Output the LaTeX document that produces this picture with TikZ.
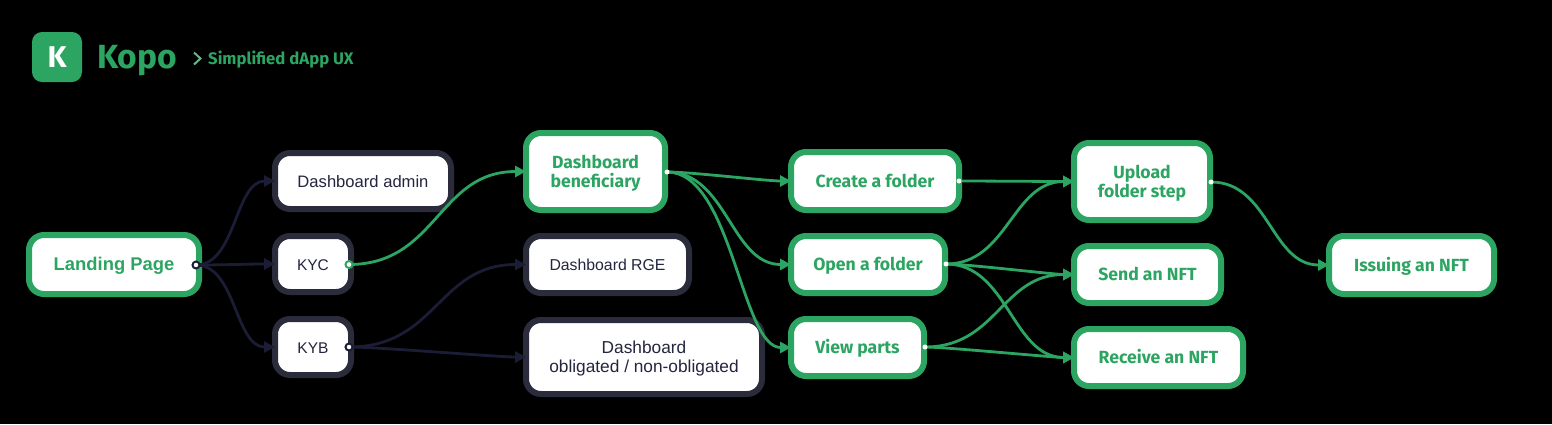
\documentclass[tikz,border=0pt]{standalone}
\usepackage{fontspec}
\setmainfont{Liberation Sans}
\newfontfamily\rub{Fira Sans}
\usetikzlibrary{arrows.meta}
\definecolor{kgreen}{HTML}{2DA562}
\definecolor{kdark}{HTML}{2B2C3B}
\definecolor{kline}{HTML}{1B1C35}
\definecolor{ktext}{HTML}{24253F}
\tikzset{
  box/.style={rectangle,rounded corners=15pt,line width=6pt,fill=white,outer sep=0pt,inner sep=0pt,align=center,minimum height=#1,text height=12pt,text depth=0pt},
  twolines/.style={text height=31pt,text depth=0pt},
  darkbox/.style={box=#1,draw=kdark,text=ktext,font=\fontsize{16.6}{19}\selectfont},
  greenbox/.style={box=#1,draw=kgreen,text=kgreen,font=\rub\bfseries\fontsize{17.6}{19}\selectfont},
  portd/.style={circle,draw=kline,fill=white,line width=2pt,minimum size=7pt,inner sep=0pt,outer sep=0pt},
  portg/.style={circle,draw=kgreen,fill=white,line width=2pt,minimum size=7pt,inner sep=0pt,outer sep=0pt},
  portw/.style={circle,fill=white,minimum size=5pt,inner sep=0pt,outer sep=0pt},
  dlink/.style={draw=kline,line width=2.8pt,-{Triangle[length=11pt,width=11pt]}},
  glink/.style={draw=kgreen,line width=2.8pt,-{Triangle[length=11pt,width=11pt]}},
}
\newcommand{\lnk}[5]{\draw[#1] (#2) .. controls +(#4,0) and +(-#5,0) .. (#3.west);}
\begin{document}
\begin{tikzpicture}[x=1pt,y=-1pt]
\useasboundingbox (0,0) rectangle (1552,424);
\fill[black] (0,0) rectangle (1552,424);
% header
\node[rectangle,fill=kgreen,rounded corners=10pt,minimum size=50pt,inner sep=0pt,text=white,font=\rub\bfseries\fontsize{30}{30}\selectfont] (logo) at (57,57) {K};
\node[anchor=west,inner sep=0pt,text=kgreen,font=\rub\bfseries\fontsize{33.5}{33.5}\selectfont] (kopo) at (97,61) {Kopo};
\node[anchor=west,inner sep=0pt,text=kgreen,font=\rub\bfseries\fontsize{16.7}{16.7}\selectfont] (sub) at (208,59.5) {Simplified dApp UX};
\draw[kgreen!75!white,line width=2pt] (194,52.5) -- (200.5,58.5) -- (194,64.5);
% boxes
\node[greenbox=59pt,minimum width=170pt,font=\bfseries\fontsize{18.4}{19}\selectfont] (land) at (114,264.5) {Landing Page};
\node[darkbox=56pt,minimum width=176pt] (admin) at (363,181) {Dashboard admin};
\node[darkbox=56pt,minimum width=76pt,font=\fontsize{15.5}{19}\selectfont] (kyc) at (313,264) {KYC};
\node[darkbox=56pt,minimum width=76pt,font=\fontsize{15.5}{19}\selectfont] (kyb) at (313,347) {KYB};
\node[greenbox=77pt,minimum width=139pt,twolines] (benef) at (595.5,171.5) {Dashboard\\beneficiary};
\node[darkbox=57pt,minimum width=163pt,font=\fontsize{15.8}{19}\selectfont] (rge) at (607.5,264.5) {Dashboard RGE};
\node[darkbox=74pt,minimum width=236pt,twolines,font=\fontsize{17.3}{19}\selectfont] (oblig) at (644,357) {Dashboard\\obligated / non-obligated};
\node[greenbox=58pt,minimum width=168pt] (create) at (875,181) {Create a folder};
\node[greenbox=57pt,minimum width=154pt] (open) at (868,264.5) {Open a folder};
\node[greenbox=57pt,minimum width=133pt] (view) at (857.5,347.5) {View parts};
\node[greenbox=77pt,minimum width=136pt,twolines] (upload) at (1142,181.5) {Upload\\folder step};
\node[greenbox=57pt,minimum width=147pt] (send) at (1147.5,274.5) {Send an NFT};
\node[greenbox=57pt,minimum width=169pt] (receive) at (1158.5,357.5) {Receive an NFT};
\node[greenbox=58pt,minimum width=165pt] (issue) at (1411.5,265) {Issuing an NFT};
% ports
\coordinate (pland) at (196,265);
\coordinate (pkyc) at (349,264.5);
\coordinate (pkyb) at (349,347);
\coordinate (pbenef) at (667,172);
\coordinate (pcreate) at (959,181);
\coordinate (popen) at (946,264);
\coordinate (pview) at (925,347);
\coordinate (pupload) at (1211,182);
% connectors
\lnk{dlink}{pland}{admin}{40}{40}
\lnk{dlink}{pland}{kyc}{30}{30}
\lnk{dlink}{pland}{kyb}{40}{40}
\lnk{dlink}{pkyb}{rge}{88}{88}
\lnk{dlink}{pkyb}{oblig}{30}{30}
\lnk{glink}{pkyc}{benef}{88}{88}
\lnk{glink}{pbenef}{create}{25}{25}
\lnk{glink}{pbenef}{open}{60}{60}
\lnk{glink}{pbenef}{view}{65}{50}
\lnk{glink}{pcreate}{upload}{20}{20}
\lnk{glink}{popen}{upload}{62}{62}
\lnk{glink}{popen}{send}{20}{20}
\lnk{glink}{popen}{receive}{62}{62}
\lnk{glink}{pview}{send}{72}{72}
\lnk{glink}{pview}{receive}{20}{20}
\lnk{glink}{pupload}{issue}{58}{58}
% port markers
\node[portd] (mland) at (pland) {};
\node[portg] (mkyc) at (pkyc) {};
\node[portd] (mkyb) at (pkyb) {};
\node[portw] (mbenef) at (pbenef) {};
\node[portw] (mcreate) at (pcreate) {};
\node[portw] (mopen) at (popen) {};
\node[portw] (mview) at (pview) {};
\node[portw] (mupload) at (pupload) {};
\end{tikzpicture}
\end{document}
